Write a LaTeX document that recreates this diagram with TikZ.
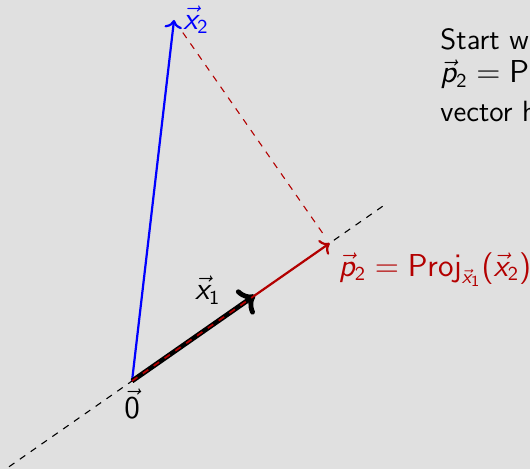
\documentclass[tikz,border=0pt]{standalone}
\usetikzlibrary{arrows.meta, calc}
\definecolor{cbg}{HTML}{E0E0E0}
\definecolor{cblue}{HTML}{0000FF}
\definecolor{cred}{HTML}{B30000}
% sans serif math, as on the slides
\SetSymbolFont{operators}{normal}{OT1}{cmss}{m}{n}
\SetSymbolFont{letters}{normal}{OT1}{cmss}{m}{sl}
\DeclareSymbolFont{vecarrows}{OML}{cmm}{m}{it}
\DeclareMathAccent{\vec}{\mathord}{vecarrows}{"7E}
\tikzset{
  every picture/.style={font=\sffamily\fontsize{13.3}{16.3}\selectfont},
  vecline/.style={-{To}, line width=1pt},
  guide/.style={dashed, line width=0.5pt},
  slidetext/.style={anchor=base west, inner sep=0pt},
}

\begin{document}
\begin{tikzpicture}
  \path[use as bounding box, fill=cbg] (-2.109,-1.406) rectangle (6.357,6.086);

  % vectors
  \coordinate (O) at (0,0);
  \coordinate (X1) at (1.965,1.37);
  \coordinate (X2) at (0.671,5.767);
  \coordinate (P2) at ($(O)!(X2)!(X1)$);
  \coordinate (La) at ($(O)!-1!(X1)$);
  \coordinate (Lb) at ($(O)!2.05!(X1)$);

  % line spanned by x1
  \draw[guide] (La) -- (Lb);

  \draw[vecline, draw=cblue] (O) -- (X2);
  \draw[guide, draw=cred, shorten <=7pt, shorten >=4.5pt] (X2) -- (P2);
  \draw[vecline, draw=cred] (O) -- (P2);
  \draw[vecline, draw=black, line width=2.2pt] (O) -- (X1);
  \draw[guide, draw=cred, line width=0.8pt] (O) -- (X1);

  % labels
  \node[text=cblue, right, inner sep=4pt] (lx2) at (X2) {$\vec{x}_2$};
  \node (lx1) at (1.21,1.45) {$\vec{x}_1$};
  \node[below] (l0) at (O) {$\vec{0}$};
  \node[text=cred, below right, inner sep=4pt] (lp2) at (P2) {$\vec{p}_2 = \mathrm{Proj}_{\vec{x}_1}(\vec{x}_2)$};

  % slide text
  \node[slidetext] (ta) at (4.92,5.299) {Start w};
  \node[slidetext] (tb) at (4.92,4.765) {$\vec{p}_2 = \mathrm{Pr}$};
  \node[slidetext] (tc) at (4.92,4.142) {vector h};
\end{tikzpicture}
\end{document}
